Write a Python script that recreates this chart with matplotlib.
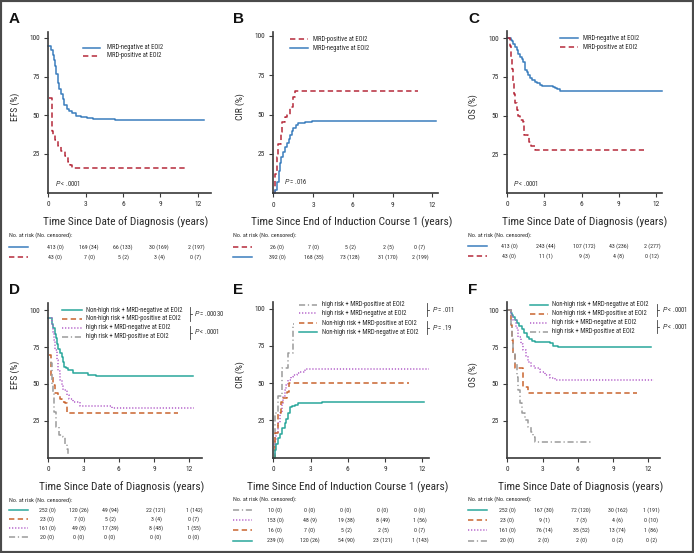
import matplotlib
matplotlib.use("Agg")
import matplotlib.pyplot as plt
from matplotlib import font_manager as fm
from matplotlib.lines import Line2D
from matplotlib.patches import Rectangle

W, H = 694, 553


def has_font(name):
    try:
        fm.findfont(fm.FontProperties(family=name), fallback_to_default=False)
        return True
    except ValueError:
        return False


# the original uses a condensed sans; take one if present, else shrink regular Liberation Sans
FONT, FS = 'Liberation Sans', 0.83
for cand in ['Liberation Sans Narrow', 'DejaVu Sans Condensed', 'Roboto Condensed']:
    if has_font(cand):
        FONT, FS = cand, 1.0
        break
plt.rcParams['font.family'] = [FONT, 'DejaVu Sans']
plt.rcParams['mathtext.fontset'] = 'custom'
plt.rcParams['mathtext.it'] = 'Liberation Sans:italic'
plt.rcParams['mathtext.rm'] = 'Liberation Sans'

# ---- data ----
# A: EFS by MRD at EOI2
a_neg_t = [0, 0.25, 0.35, 0.45, 0.55, 0.65, 0.75, 0.85, 1.0, 1.15, 1.3, 1.47, 1.65, 1.9, 2.2, 2.6, 3.1, 3.6, 4.2, 5.35, 12.5]
a_neg_s = [95, 92, 89, 86, 82, 77, 71, 67, 63.5, 60.5, 57, 54, 52.5, 51.3, 49.8, 49, 48.3, 47.9, 47.4, 46.8, 46.8]
a_pos_t = [0.08, 0.27, 0.4, 0.54, 0.8, 1.05, 1.34, 1.55, 1.75, 1.9, 11.0]
a_pos_s = [61, 40, 37, 34, 30, 27, 23.5, 20, 17.7, 16, 16]

# B: CIR by MRD at EOI2
b_pos_t = [0, 0.1, 0.25, 0.38, 0.58, 0.68, 0.88, 1.0, 1.26, 1.5, 1.64, 10.9]
b_pos_s = [0, 12, 23, 31.6, 39, 45.5, 48.7, 50, 55, 61, 65.3, 65.3]
b_neg_t = [0, 0.1, 0.25, 0.4, 0.5, 0.6, 0.75, 0.9, 1.0, 1.15, 1.26, 1.4, 1.5, 1.7, 1.9, 2.1, 2.4, 2.9, 3.4, 3.9, 12.25]
b_neg_s = [0, 2, 7.4, 14, 19, 23, 26.5, 29.5, 31.8, 34.5, 37, 39.5, 41.7, 43.2, 44.5, 45, 45.5, 45.8, 46, 46.2, 46.2]

# C: OS by MRD at EOI2
c_neg_t = [0, 0.3, 0.4, 0.48, 0.6, 0.75, 0.9, 1.0, 1.15, 1.3, 1.42, 1.55, 1.7, 1.85, 2.0, 2.2, 2.37, 2.6, 2.8, 3.7, 3.85, 4.05, 4.25, 12.5]
c_neg_s = [100, 99, 98, 96.5, 94.5, 92.5, 90, 88, 86.5, 85, 79.5, 78, 76.3, 74.5, 73, 72, 71, 70, 69.2, 68.2, 67.7, 67, 66.2, 66.2]
c_pos_t = [0, 0.25, 0.32, 0.4, 0.48, 0.56, 0.64, 0.75, 0.9, 1.0, 1.3, 1.34, 1.65, 1.75, 1.95, 2.2, 11.0]
c_pos_s = [100, 95, 88, 80, 72, 64, 58, 53.7, 50, 47, 46, 37.5, 37, 33, 30.6, 27.8, 27.8]

# D: EFS by risk group x MRD
d_nhr_neg_t = [0, 0.28, 0.43, 0.55, 0.65, 0.75, 0.85, 1.0, 1.13, 1.25, 1.36, 1.5, 1.7, 2.1, 3.4, 4.1, 12.3]
d_nhr_neg_s = [94.6, 91, 87.8, 84, 81, 77, 74, 71, 68.5, 65, 61.7, 60.5, 59.4, 57.1, 56, 55.3, 55.3]
d_nhr_pos_t = [0.1, 0.25, 0.37, 0.57, 0.8, 1.0, 1.2, 1.4, 1.56, 11.0]
d_nhr_pos_s = [69.6, 55, 49.2, 43.5, 42, 40, 38, 36.7, 30.4, 30.4]
d_hr_neg_t = [0, 0.3, 0.43, 0.5, 0.6, 0.7, 0.85, 1.0, 1.15, 1.28, 1.56, 1.8, 2.1, 2.7, 5.4, 12.4]
d_hr_neg_s = [95, 90, 85.5, 80, 73, 66, 59, 52.6, 48.5, 45.8, 42.4, 40, 37.9, 35, 33.3, 33.3]
d_hr_pos_t = [0.14, 0.3, 0.37, 0.48, 0.65, 0.94, 1.28, 1.42, 1.55, 1.7, 1.75]
d_hr_pos_s = [64, 50, 43.5, 31, 20.9, 15.2, 14, 9.5, 6, 2.5, 2.5]

# E: CIR by risk group x MRD
e_hr_pos_t = [0, 0.13, 0.4, 0.67, 1.2, 1.6, 1.65]
e_hr_pos_s = [0, 29.8, 41, 60, 70, 90, 90]
e_hr_neg_t = [0, 0.13, 0.25, 0.4, 0.55, 0.67, 0.8, 0.94, 1.05, 1.2, 1.4, 1.6, 1.9, 2.15, 2.55, 12.5]
e_hr_neg_s = [0, 11.9, 17, 23, 30, 36.5, 41, 45.4, 49, 52, 54, 55.5, 56.7, 57.7, 59.5, 59.5]
e_nhr_pos_t = [0, 0.13, 0.4, 0.62, 0.8, 1.07, 1.26, 10.9]
e_nhr_pos_s = [0, 16.3, 29.8, 37.6, 40, 44.3, 50, 50]
e_nhr_neg_t = [0, 0.13, 0.25, 0.4, 0.55, 0.67, 0.94, 1.05, 1.2, 1.34, 1.5, 1.74, 2.0, 3.9, 12.1]
e_nhr_neg_s = [0, 5, 9, 13, 16, 19.7, 23, 26, 29.8, 33.8, 34.5, 35.3, 36.5, 37.6, 37.6]

# F: OS by risk group x MRD
f_nhr_neg_t = [0, 0.3, 0.4, 0.5, 0.65, 0.8, 1.0, 1.22, 1.4, 1.65, 1.85, 2.07, 2.35, 3.63, 3.9, 4.34, 12.2]
f_nhr_neg_s = [100, 98, 97, 95.7, 93.5, 91.2, 89, 87, 84.5, 82, 80.5, 79.4, 78.7, 77.5, 75.7, 74.8, 74.8]
f_nhr_pos_t = [0, 0.3, 0.4, 0.5, 0.65, 1.36, 1.8, 11.0]
f_nhr_pos_s = [100, 90, 80, 70, 60.5, 48, 43.5, 43.5]
f_hr_neg_t = [0, 0.3, 0.5, 0.7, 0.94, 1.15, 1.36, 1.6, 1.8, 2.05, 2.35, 2.8, 3.2, 3.6, 4.06, 12.5]
f_hr_neg_s = [100, 97, 93.4, 88, 82, 77, 73, 69, 65, 62.5, 60.5, 58, 56, 54, 52.6, 52.6]
f_hr_pos_t = [0, 0.3, 0.37, 0.5, 0.65, 0.8, 0.94, 1.1, 1.22, 1.5, 1.8, 2.0, 2.2, 2.35, 7.2]
f_hr_pos_s = [100, 90, 82, 72, 64, 55, 45.8, 37, 30, 25.4, 20.9, 17, 14, 10.7, 10.7]

# numbers at risk (No. censored)
a_risk = [["413 (0)", "169 (34)", "66 (133)", "30 (169)", "2 (197)"],
          ["43 (0)", "7 (0)", "5 (2)", "3 (4)", "0 (7)"]]
b_risk = [["26 (0)", "7 (0)", "5 (2)", "2 (5)", "0 (7)"],
          ["392 (0)", "168 (35)", "73 (128)", "31 (170)", "2 (199)"]]
c_risk = [["413 (0)", "243 (44)", "107 (172)", "43 (236)", "2 (277)"],
          ["43 (0)", "11 (1)", "9 (3)", "4 (8)", "0 (12)"]]
d_risk = [["252 (0)", "120 (26)", "49 (94)", "22 (121)", "1 (142)"],
          ["23 (0)", "7 (0)", "5 (2)", "3 (4)", "0 (7)"],
          ["161 (0)", "49 (8)", "17 (39)", "8 (48)", "1 (55)"],
          ["20 (0)", "0 (0)", "0 (0)", "0 (0)", "0 (0)"]]
e_risk = [["10 (0)", "0 (0)", "0 (0)", "0 (0)", "0 (0)"],
          ["153 (0)", "48 (9)", "19 (38)", "8 (49)", "1 (56)"],
          ["16 (0)", "7 (0)", "5 (2)", "2 (5)", "0 (7)"],
          ["239 (0)", "120 (26)", "54 (90)", "23 (121)", "1 (143)"]]
f_risk = [["252 (0)", "167 (30)", "72 (120)", "30 (162)", "1 (191)"],
          ["23 (0)", "9 (1)", "7 (3)", "4 (6)", "0 (10)"],
          ["161 (0)", "76 (14)", "35 (52)", "13 (74)", "1 (86)"],
          ["20 (0)", "2 (0)", "2 (0)", "0 (2)", "0 (2)"]]

lab_neg = "MRD-negative at EOI2"
lab_pos = "MRD-positive at EOI2"
lab_nhr_neg = "Non-high risk + MRD-negative at EOI2"
lab_nhr_pos = "Non-high risk + MRD-positive at EOI2"
lab_hr_neg = "high risk + MRD-negative at EOI2"
lab_hr_pos = "high risk + MRD-positive at EOI2"

# ---- styles ----
STY = {
    'blue': dict(color='#3b7dbd', linestyle='-'),
    'red': dict(color='#b52a3a', linestyle=(0, (3.5, 2.2))),
    'teal': dict(color='#2aa79b', linestyle='-'),
    'orange': dict(color='#c9642f', linestyle=(0, (3.5, 2.2))),
    'purple': dict(color='#b35fc9', linestyle=(0, (0.8, 1.2))),
    'gray': dict(color='#9b9b9b', linestyle=(0, (4, 1.8, 0.8, 1.8))),
}
AX_COL = '#3a3a3a'
TXT = '#2b2b2b'


def fx(x):
    return x / W


def fy(y):
    return 1 - y / H


fig = plt.figure(figsize=(W / 100, H / 100), dpi=100)


def fline(x0, x1, y, sty, lw=1.1):
    fig.add_artist(Line2D([fx(x0), fx(x1)], [fy(y), fy(y)], transform=fig.transFigure, lw=lw, **sty))


def make_axes(x0, x12, xend, y100, y25, ytop):
    ppx = (x12 - x0) / 12.0
    ppy = (y25 - y100) / 75.0
    ybot = y25 + 25 * ppy
    ax = fig.add_axes([fx(x0), fy(ybot), (xend - x0) / W, (ybot - ytop) / H])
    ax.set_xlim(0, (xend - x0) / ppx)
    ax.set_ylim(0, (ybot - ytop) / ppy)
    for s in ['top', 'right']:
        ax.spines[s].set_visible(False)
    for s in ['left', 'bottom']:
        ax.spines[s].set_color(AX_COL)
        ax.spines[s].set_linewidth(1.2)
    ax.set_xticks([0, 3, 6, 9, 12])
    ax.set_yticks([25, 50, 75, 100])
    ax.tick_params(direction='out', length=3, width=0.8, color=AX_COL,
                   labelsize=5.3 * FS, labelcolor=TXT, pad=3)
    ax.patch.set_alpha(0)
    return ax


panels = [
    dict(letter='A', lpos=(9, 23), box=(48.3, 197.7, 211, 38, 154, 32),
         curves=[(a_neg_t, a_neg_s, 'blue', lab_neg), (a_pos_t, a_pos_s, 'red', lab_pos)],
         ylabel='EFS (%)', ylpos=(15, 107),
         xlabel='Time Since Date of Diagnosis (years)', xlpos=(126, 222),
         leg=(83, 100, 107, [47.7, 55.7]), pval=(55, 183.3, r'$P$ < .0001'),
         risk=a_risk, tab=(9, 28, 235, [246.7, 256.7], [55, 89, 123, 159, 196])),
    dict(letter='B', lpos=(233, 23), box=(273.3, 432.3, 438, 36, 154, 31.7),
         curves=[(b_pos_t, b_pos_s, 'red', lab_pos), (b_neg_t, b_neg_s, 'blue', lab_neg)],
         ylabel='CIR (%)', ylpos=(240, 107),
         xlabel='Time Since End of Induction Course 1 (years)', xlpos=(352, 222),
         leg=(290, 308, 313, [39.3, 48.3]), pval=(284, 182, r'$P$ = .016'),
         risk=b_risk, tab=(233, 252, 235, [246.7, 256.7], [277, 314, 350, 388, 420])),
    dict(letter='C', lpos=(468, 23), box=(507.3, 656, 661.7, 38.3, 154.3, 31),
         curves=[(c_neg_t, c_neg_s, 'blue', lab_neg), (c_pos_t, c_pos_s, 'red', lab_pos)],
         ylabel='OS (%)', ylpos=(473, 107),
         xlabel='Time Since Date of Diagnosis (years)', xlpos=(585, 222),
         leg=(560, 578, 583, [38, 47.3]), pval=(513, 183, r'$P$ < .0001'),
         risk=c_risk, tab=(468, 487, 235, [246, 256], [509, 546, 584, 618.5, 652])),
    dict(letter='D', lpos=(9, 294), box=(48.3, 189.3, 201.7, 310.3, 420.7, 303),
         curves=[(d_nhr_neg_t, d_nhr_neg_s, 'teal', lab_nhr_neg),
                 (d_nhr_pos_t, d_nhr_pos_s, 'orange', lab_nhr_pos),
                 (d_hr_neg_t, d_hr_neg_s, 'purple', lab_hr_neg),
                 (d_hr_pos_t, d_hr_pos_s, 'gray', lab_hr_pos)],
         ylabel='EFS (%)', ylpos=(15, 375),
         xlabel='Time Since Date of Diagnosis (years)', xlpos=(122, 487),
         leg=(62, 82, 86, [310, 319, 327.7, 336.7]),
         brackets=[(190, 307, 321, 194, 314, r'$P$ = .00030'), (190, 326, 339, 194, 332, r'$P$ < .0001')],
         risk=d_risk, tab=(9, 28, 500, [510, 519, 528, 537], [47, 79, 110, 156, 194])),
    dict(letter='E', lpos=(233, 294), box=(273.3, 422.3, 429, 308.7, 420.3, 301.7),
         curves=[(e_hr_pos_t, e_hr_pos_s, 'gray', lab_hr_pos),
                 (e_hr_neg_t, e_hr_neg_s, 'purple', lab_hr_neg),
                 (e_nhr_pos_t, e_nhr_pos_s, 'orange', lab_nhr_pos),
                 (e_nhr_neg_t, e_nhr_neg_s, 'teal', lab_nhr_neg)],
         ylabel='CIR (%)', ylpos=(240, 375),
         xlabel='Time Since End of Induction Course 1 (years)', xlpos=(348, 487),
         leg=(299, 317, 322, [305, 313.3, 323.3, 332]),
         brackets=[(427, 303, 316, 432, 310, r'$P$ = .011'), (427, 321, 334, 432, 327.3, r'$P$ = .19')],
         risk=e_risk, tab=(233, 252, 499, [510, 520, 530, 540.5], [275, 310, 346, 383, 420])),
    dict(letter='F', lpos=(468, 294), box=(507.3, 648.3, 659.7, 310.3, 420.7, 302.3),
         curves=[(f_nhr_neg_t, f_nhr_neg_s, 'teal', lab_nhr_neg),
                 (f_nhr_pos_t, f_nhr_pos_s, 'orange', lab_nhr_pos),
                 (f_hr_neg_t, f_hr_neg_s, 'purple', lab_hr_neg),
                 (f_hr_pos_t, f_hr_pos_s, 'gray', lab_hr_pos)],
         ylabel='OS (%)', ylpos=(473, 375),
         xlabel='Time Since Date of Diagnosis (years)', xlpos=(581, 487),
         leg=(530, 548, 552, [305, 313.7, 322.7, 331.7]),
         brackets=[(657, 304, 316, 662, 309.3, r'$P$ < .0001'), (657, 320, 333, 662, 326.7, r'$P$ < .0001')],
         risk=f_risk, tab=(468, 487, 499, [510, 520, 530, 540.5], [507, 544, 581, 617.5, 651])),
]

for p in panels:
    ax = make_axes(*p['box'])
    for t, s, key, lab in p['curves']:
        ax.plot(t, s, drawstyle='steps-post', lw=1.1, clip_on=False, label=lab, **STY[key])

    fig.text(fx(p['lpos'][0]), fy(p['lpos'][1]), p['letter'], family='Liberation Sans',
             weight='bold', fontsize=11, ha='left', va='baseline', color='#111')
    fig.text(fx(p['ylpos'][0]), fy(p['ylpos'][1]), p['ylabel'], rotation=90, fontsize=6.8 * FS,
             ha='center', va='center', color=TXT)
    fig.text(fx(p['xlpos'][0]), fy(p['xlpos'][1]), p['xlabel'], fontsize=8.2 * FS,
             ha='center', va='center', color=TXT)

    # legend
    lx0, lx1, tx, rows = p['leg']
    for (t, s, key, lab), y in zip(p['curves'], rows):
        fline(lx0, lx1, y, STY[key])
        fig.text(fx(tx), fy(y), lab, fontsize=4.8 * FS, ha='left', va='center', color=TXT)

    if 'pval' in p:
        x, y, txt = p['pval']
        fig.text(fx(x), fy(y), txt, fontsize=4.8 * FS, ha='left', va='center', color=TXT)
    for bx, y0, y1, px_, py_, txt in p.get('brackets', []):
        fig.add_artist(Line2D([fx(bx), fx(bx)], [fy(y0), fy(y1)], transform=fig.transFigure,
                              color='#444', lw=0.6))
        ym = (y0 + y1) / 2
        fig.add_artist(Line2D([fx(bx), fx(bx + 1.8)], [fy(ym), fy(ym)], transform=fig.transFigure,
                              color='#444', lw=0.6))
        fig.text(fx(px_), fy(py_), txt, fontsize=4.8 * FS, ha='left', va='center', color=TXT)

    # numbers at risk table
    sx0, sx1, hy, rys, cols = p['tab']
    fig.text(fx(sx0), fy(hy), 'No. at risk (No. censored):', fontsize=4.4 * FS,
             ha='left', va='center', color=TXT)
    for (t, s, key, lab), y, vals in zip(p['curves'], rys, p['risk']):
        fline(sx0, sx1, y, STY[key])
        for cx, v in zip(cols, vals):
            fig.text(fx(cx), fy(y), v, fontsize=4.2 * FS, ha='center', va='center', color=TXT)

fig.add_artist(Rectangle((0, 0), 1, 1, transform=fig.transFigure, fill=False,
                         edgecolor='#4a4a4a', lw=3))

fig.savefig('out.png', dpi=100)
